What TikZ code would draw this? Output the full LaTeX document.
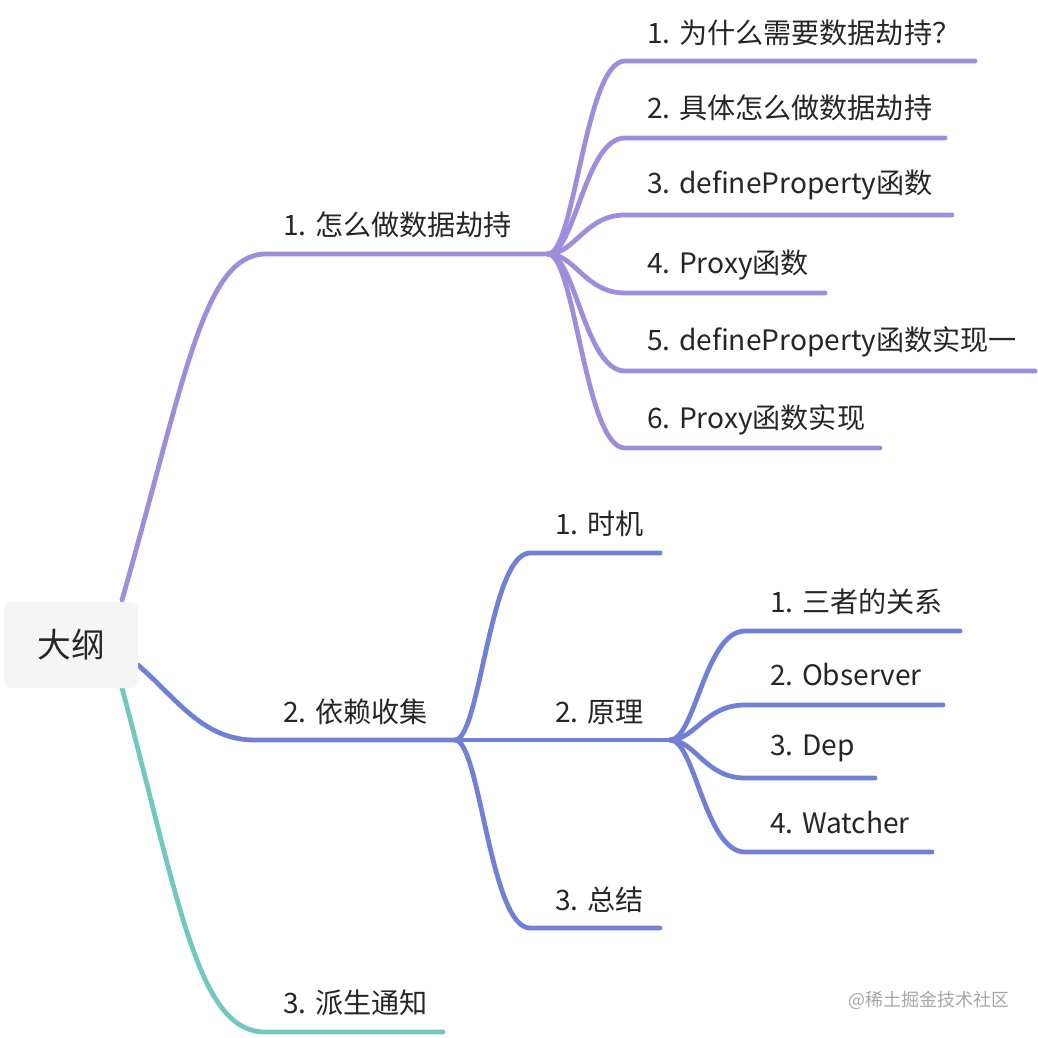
\documentclass[tikz,border=0pt]{standalone}
\usepackage{fontspec}
\setmainfont{Noto Sans CJK SC}
\usepackage{tikz}
\usetikzlibrary{positioning}

\definecolor{lilac}{RGB}{160,140,220}
\definecolor{indigo}{RGB}{112,128,214}
\definecolor{seagreen}{RGB}{115,200,190}
\definecolor{ink}{RGB}{38,38,38}

\begin{document}
\begin{tikzpicture}[
        x=0.025cm, y=-0.025cm,
        root/.style={rectangle, rounded corners=5pt, fill=gray!8, minimum width=134*0.025cm, minimum height=86*0.025cm, font=\fontsize{24}{28}\selectfont, text=ink},
        item/.style={anchor=west, inner sep=0pt, font=\fontsize{20}{24}\selectfont, text=ink},
        branch/.style={line width=3.4pt, line cap=round},
        lilacline/.style={branch, draw=lilac},
        indigoline/.style={branch, draw=indigo},
        greenline/.style={branch, draw=seagreen},
        watermark/.style={anchor=west, inner sep=0pt, font=\fontsize{12.8}{15}\selectfont, text=gray!70},
    ]
    \useasboundingbox (0,0) rectangle (1038,1038);

    % === FORKS ===
    \coordinate (rootA) at (122,600);
    \coordinate (rootB) at (138,665);
    \coordinate (rootC) at (122,688);
    \coordinate (forkA) at (548,254);
    \coordinate (forkB) at (455,740);
    \coordinate (forkP) at (670,740);

    % === LEVEL 1 ===
    \node[item] (hijack) at (283,225) {1. 怎么做数据劫持};
    \node[item] (collect) at (283,712) {2. 依赖收集};
    \node[item] (notify) at (283,1003) {3. 派生通知};
    \coordinate (hijackS) at (266,254);
    \coordinate (collectS) at (255,740);
    \coordinate (notifyS) at (265,1032);
    \coordinate (notifyE) at (443,1032);

    \draw[lilacline] (rootA) .. controls (185,380) and (203,254) .. (hijackS) -- (forkA);
    \draw[indigoline] (rootB) .. controls (178,700) and (203,740) .. (collectS) -- (forkB);
    \draw[greenline] (rootC) .. controls (180,905) and (198,1032) .. (notifyS) -- (notifyE);

    % === HIJACK CHILDREN ===
    \node[item] (why) at (647,33) {1. 为什么需要数据劫持？};
    \node[item] (how) at (647,108) {2. 具体怎么做数据劫持};
    \node[item] (defprop) at (647,185) {3. defineProperty函数};
    \node[item] (proxy) at (647,265) {4. Proxy函数};
    \node[item] (defimpl) at (647,342) {5. defineProperty函数实现一};
    \node[item] (proxyimpl) at (647,420) {6. Proxy函数实现};

    \coordinate (whyS) at (625,61);        \coordinate (whyE) at (975,61);
    \coordinate (howS) at (625,138);       \coordinate (howE) at (945,138);
    \coordinate (defpropS) at (625,215);   \coordinate (defpropE) at (952,215);
    \coordinate (proxyS) at (625,293);     \coordinate (proxyE) at (825,293);
    \coordinate (defimplS) at (625,371);   \coordinate (defimplE) at (1035,371);
    \coordinate (proxyimplS) at (625,448); \coordinate (proxyimplE) at (880,448);

    \draw[lilacline] (forkA) .. controls +(27,0) and +(-40,0) .. (whyS) -- (whyE);
    \draw[lilacline] (forkA) .. controls +(27,0) and +(-40,0) .. (howS) -- (howE);
    \draw[lilacline] (forkA) .. controls +(27,0) and +(-40,0) .. (defpropS) -- (defpropE);
    \draw[lilacline] (forkA) .. controls +(27,0) and +(-40,0) .. (proxyS) -- (proxyE);
    \draw[lilacline] (forkA) .. controls +(27,0) and +(-40,0) .. (defimplS) -- (defimplE);
    \draw[lilacline] (forkA) .. controls +(27,0) and +(-40,0) .. (proxyimplS) -- (proxyimplE);

    % === COLLECT CHILDREN ===
    \node[item] (timing) at (555,524) {1. 时机};
    \node[item] (principle) at (555,712) {2. 原理};
    \node[item] (summary) at (555,900) {3. 总结};

    \coordinate (timingS) at (530,553);  \coordinate (timingE) at (660,553);
    \coordinate (summaryS) at (530,928); \coordinate (summaryE) at (660,928);

    \draw[indigoline] (forkB) .. controls +(25,0) and +(-40,0) .. (timingS) -- (timingE);
    \draw[indigoline] (forkB) -- (forkP);
    \draw[indigoline] (forkB) .. controls +(25,0) and +(-40,0) .. (summaryS) -- (summaryE);

    % === PRINCIPLE CHILDREN ===
    \node[item] (three) at (770,602) {1. 三者的关系};
    \node[item] (observer) at (770,674) {2. Observer};
    \node[item] (dep) at (770,748) {3. Dep};
    \node[item] (watcher) at (770,822) {4. Watcher};

    \coordinate (threeS) at (745,631);    \coordinate (threeE) at (960,631);
    \coordinate (observerS) at (745,705); \coordinate (observerE) at (943,705);
    \coordinate (depS) at (745,778);      \coordinate (depE) at (875,778);
    \coordinate (watcherS) at (745,852);  \coordinate (watcherE) at (932,852);

    \draw[indigoline] (forkP) .. controls +(25,0) and +(-40,0) .. (threeS) -- (threeE);
    \draw[indigoline] (forkP) .. controls +(25,0) and +(-40,0) .. (observerS) -- (observerE);
    \draw[indigoline] (forkP) .. controls +(25,0) and +(-40,0) .. (depS) -- (depE);
    \draw[indigoline] (forkP) .. controls +(25,0) and +(-40,0) .. (watcherS) -- (watcherE);

    % === ROOT ===
    \node[root] (outline) at (71,645) {大纲};

    % Watermark
    \node[watermark] (credit) at (848,1000) {@稀土掘金技术社区};
\end{tikzpicture}
\end{document}
